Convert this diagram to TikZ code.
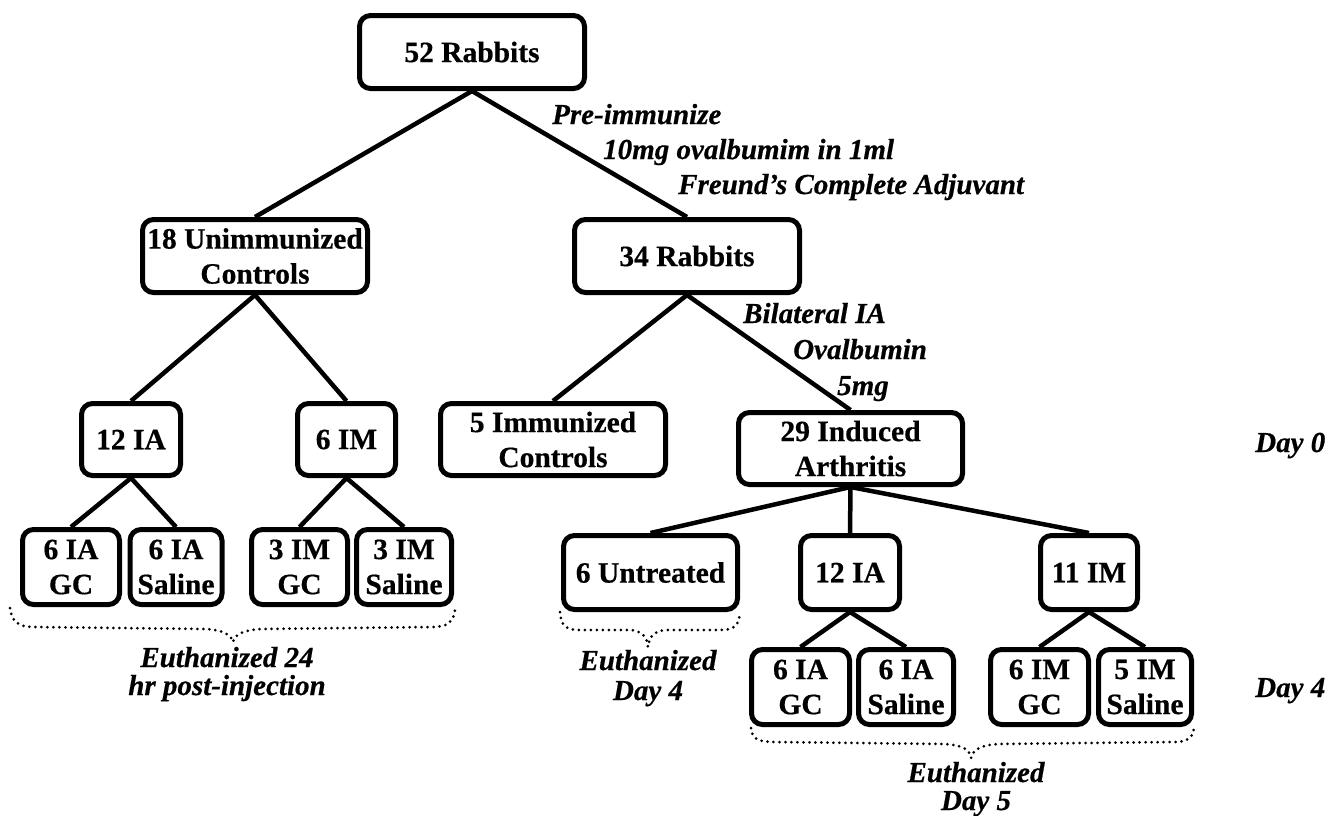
\documentclass[tikz,border=0pt]{standalone}
\usepackage{fontspec}
\setmainfont{Liberation Serif}[BoldFeatures={FakeBold=0.5},BoldItalicFeatures={FakeBold=0.5}]
\begin{document}
\begin{tikzpicture}[x=1pt,y=-1pt,
  box/.style={draw, line width=5pt, rounded corners=11pt, align=center, inner sep=0pt,
    font=\bfseries\fontsize{29.5}{35}\selectfont},
  conn/.style={line width=4.5pt},
  lab/.style={font=\bfseries\itshape\fontsize{29}{35}\selectfont, inner sep=0pt},
  brace/.style={line width=3pt, dash pattern=on 0pt off 6pt, line cap=round}]
\useasboundingbox (0,0) rectangle (1330,815);
% boxes
\node[box, minimum width=225pt, minimum height=73pt] (r52) at (472,52) {52 Rabbits};
\node[box, minimum width=225pt, minimum height=73pt] (unimm) at (255,256) {18 Unimmunized\\Controls};
\node[box, minimum width=225pt, minimum height=73pt] (r34) at (687,256) {34 Rabbits};
\node[box, minimum width=99pt, minimum height=72pt] (iaL) at (131,439.5) {12 IA};
\node[box, minimum width=98pt, minimum height=72pt] (imL) at (346.5,439.5) {6 IM};
\node[box, minimum width=225pt, minimum height=72pt] (imm5) at (553,439.5) {5 Immunized\\Controls};
\node[box, minimum width=224pt, minimum height=72pt] (ind29) at (850.5,448.5) {29 Induced\\Arthritis};
\node[box, minimum width=174pt, minimum height=74pt] (untr) at (650.5,572.5) {6 Untreated};
\node[box, minimum width=99pt, minimum height=74pt] (iaR) at (850,572.5) {12 IA};
\node[box, minimum width=97pt, minimum height=74pt] (imR) at (1089,572.5) {11 IM};
% left sub-boxes
\node[box, minimum width=97pt, minimum height=75pt] (iagcL) at (71,567) {6 IA\\GC};
\node[box, minimum width=92pt, minimum height=75pt] (iasaL) at (176,567) {6 IA\\Saline};
\node[box, minimum width=96pt, minimum height=75pt] (imgcL) at (299.5,567) {3 IM\\GC};
\node[box, minimum width=95pt, minimum height=75pt] (imsaL) at (404,567) {3 IM\\Saline};
% right sub-boxes
\node[box, minimum width=98pt, minimum height=75pt] (iagcR) at (800.5,687) {6 IA\\GC};
\node[box, minimum width=95pt, minimum height=75pt] (iasaR) at (906,687) {6 IA\\Saline};
\node[box, minimum width=98pt, minimum height=75pt] (imgcR) at (1039.5,687) {6 IM\\GC};
\node[box, minimum width=93pt, minimum height=75pt] (imsaR) at (1145,687) {5 IM\\Saline};
% connectors
\draw[conn] (r52.south) -- (unimm.north);
\draw[conn] (r52.south) -- (r34.north);
\draw[conn] (unimm.south) -- (iaL.north);
\draw[conn] (unimm.south) -- (imL.north);
\draw[conn] (r34.south) -- (imm5.north);
\draw[conn] (r34.south) -- (ind29.north);
\draw[conn] (iaL.south) -- (iagcL.north);
\draw[conn] (iaL.south) -- (iasaL.north);
\draw[conn] (imL.south) -- (imgcL.north);
\draw[conn] (imL.south) -- (imsaL.north);
\draw[conn] (ind29.south) -- (untr.north);
\draw[conn] (ind29.south) -- (iaR.north);
\draw[conn] (ind29.south) -- (imR.north);
\draw[conn] (iaR.south) -- (iagcR.north);
\draw[conn] (iaR.south) -- (iasaR.north);
\draw[conn] (imR.south) -- (imgcR.north);
\draw[conn] (imR.south) -- (imsaR.north);
% labels
\node[lab, anchor=base west] (pre1) at (552,124) {Pre-immunize};
\node[lab, anchor=base west] (pre2) at (603,159) {10mg ovalbumim in 1ml};
\node[lab, anchor=base west] (pre3) at (678,194) {Freund’s Complete Adjuvant};
\node[lab, anchor=base west] (bil1) at (743,323) {Bilateral IA};
\node[lab, anchor=base west] (bil2) at (793,359) {Ovalbumin};
\node[lab, anchor=base west] (bil3) at (837,395) {5mg};
\node[lab, anchor=base west] (day0) at (1255,452) {Day 0};
\node[lab, anchor=base west] (day4) at (1255,697) {Day 4};
\node[lab, anchor=base] (eu1a) at (227,667) {Euthanized 24};
\node[lab, anchor=base] (eu1b) at (227,695) {hr post-injection};
\node[lab, anchor=base] (eu2a) at (648,670) {Euthanized};
\node[lab, anchor=base] (eu2b) at (648,700) {Day 4};
\node[lab, anchor=base] (eu3a) at (976,782) {Euthanized};
\node[lab, anchor=base] (eu3b) at (976,810) {Day 5};
% dotted braces
\draw[brace] (10,608) .. controls (12,622) and (18,627) .. (35,627) -- (205,629)
  .. controls (222,630) and (231,634) .. (233,642)
  .. controls (235,634) and (244,630) .. (261,629) -- (432,627)
  .. controls (448,627) and (453,622) .. (455,610);
\draw[brace] (560,612) .. controls (561,626) and (566,630) .. (580,630) -- (628,630)
  .. controls (642,630) and (647,637) .. (648,647)
  .. controls (649,637) and (654,630) .. (668,630) -- (720,630)
  .. controls (734,630) and (739,626) .. (740,612);
\draw[brace] (751,728) .. controls (752,739) and (758,742) .. (775,742) -- (945,744)
  .. controls (963,745) and (970,750) .. (971,758)
  .. controls (973,750) and (980,745) .. (998,744) -- (1172,742)
  .. controls (1188,742) and (1193,738) .. (1194,728);
\end{tikzpicture}
\end{document}
